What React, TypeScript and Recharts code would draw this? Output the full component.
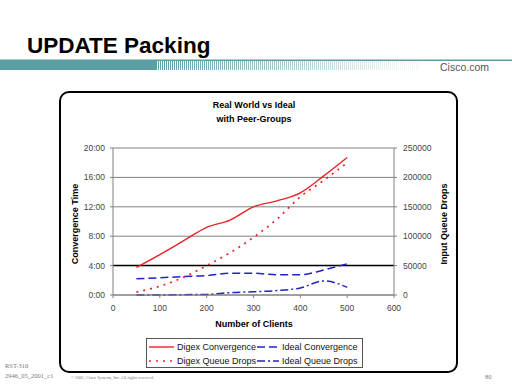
import React from "react";
import { LineChart, Line, XAxis, YAxis, CartesianGrid, ReferenceLine, Legend } from "recharts";

// ---- data ----
const clients = [50, 100, 150, 200, 250, 300, 350, 400, 450, 500];
const digexConvergence = [3.75, 5.5, 7.35, 9.2, 10.2, 12.0, 12.8, 13.9, 16.2, 18.7];
const idealConvergence = [2.2, 2.35, 2.5, 2.65, 2.95, 2.95, 2.75, 2.75, 3.4, 4.25];
const digexQueueDrops = [5000, 15000, 30000, 50000, 72000, 98000, 129000, 167000, 195000, 225000];
const idealQueueDrops = [0, 0, 500, 1000, 4000, 5500, 7500, 12000, 24000, 13000];

const xTicks = [0, 100, 200, 300, 400, 500, 600];
const leftTicks = [0, 4, 8, 12, 16, 20];
const rightTicks = [0, 50000, 100000, 150000, 200000, 250000];

const seriesNames = {
  digexConv: "Digex Convergence",
  idealConv: "Ideal Convergence",
  digexDrops: "Digex Queue Drops",
  idealDrops: "Ideal Queue Drops",
};
const legendOrder = ["digexConv", "idealConv", "digexDrops", "idealDrops"];

const data = clients.map((c, i) => ({
  x: c,
  digexConv: digexConvergence[i],
  idealConv: idealConvergence[i],
  digexDrops: digexQueueDrops[i],
  idealDrops: idealQueueDrops[i],
}));

const RED = "#e8242a";
const BLUE = "#2222c8";
const TEAL = "#5a9ea6";
const FONT = "'Liberation Sans', Arial, Helvetica, sans-serif";

const styles: Record<string, { color: string; dash?: string; width: number }> = {
  digexConv: { color: RED, width: 1.4 },
  idealConv: { color: BLUE, dash: "8 4", width: 1.5 },
  digexDrops: { color: RED, dash: "2 5", width: 1.7 },
  idealDrops: { color: BLUE, dash: "8 3 2 3", width: 1.5 },
};

const LegendBox = (props: any) => {
  const payload = [...(props.payload || [])].sort(
    (a: any, b: any) => legendOrder.indexOf(String(a.dataKey)) - legendOrder.indexOf(String(b.dataKey))
  );
  return (
    <div
      style={{
        width: 217,
        height: 30,
        boxSizing: "border-box",
        border: "1px solid #555",
        background: "#fff",
        position: "relative",
        fontFamily: FONT,
        fontSize: 9,
        color: "#111",
      }}
    >
      {payload.map((p: any, i: number) => {
        const key = String(p.dataKey);
        const s = styles[key];
        const col = i % 2;
        const row = Math.floor(i / 2);
        const left = col === 0 ? 2 : 110;
        const top = row === 0 ? 2 : 16;
        const w = col === 0 ? 25 : 22;
        return (
          <div key={key} style={{ position: "absolute", left, top, height: 12, display: "flex", alignItems: "center", whiteSpace: "nowrap" }}>
            <svg width={w} height={6} style={{ marginRight: 3 }}>
              <line x1={0} y1={3} x2={w} y2={3} stroke={s.color} strokeWidth={s.width} strokeDasharray={s.dash} />
            </svg>
            <span>{seriesNames[key as keyof typeof seriesNames]}</span>
          </div>
        );
      })}
    </div>
  );
};

const stripes: number[] = [];
for (let x = 156; x < 420; x += 2) stripes.push(x);

export default function App() {
  return (
    <div style={{ position: "absolute", left: 0, top: 0, width: 512, height: 384, background: "#fff", overflow: "hidden", fontFamily: FONT }}>
      <svg width={512} height={384} style={{ position: "absolute", left: 0, top: 0 }}>
        <text x={27} y={53} fontFamily={FONT} fontWeight="bold" fontSize={22.5} fill="#000">UPDATE Packing</text>
        <rect x={0} y={60} width={156} height={10} fill={TEAL} />
        <rect x={0} y={59.5} width={512} height={1.5} fill={TEAL} />
        {stripes.map((x) => (
          <rect key={x} x={x} y={61} width={1} height={9} fill={TEAL} opacity={Math.max(0.08, 1 - (x - 156) / 270)} />
        ))}
        <text x={440} y={71} fontFamily={FONT} fontSize={10.5} fill="#555">Cisco.com</text>
        <rect x={60} y={92} width={397} height={280} rx={9} ry={9} fill="#fff" stroke="#000" strokeWidth={2} />
        <text x={5} y={368} fontFamily="'Liberation Serif', 'Times New Roman', serif" fontSize={6.5} fill="#777">RST-310</text>
        <text x={5} y={378} fontFamily="'Liberation Serif', 'Times New Roman', serif" fontSize={6.5} fill="#777">2946_05_2001_c1</text>
        <text x={71} y={379} fontFamily="'Liberation Serif', 'Times New Roman', serif" fontSize={4.3} fill="#777">© 2001, Cisco Systems, Inc. All rights reserved.</text>
        <text x={485} y={379} fontFamily="'Liberation Serif', 'Times New Roman', serif" fontSize={6.5} fill="#777">80</text>
      </svg>
      <div style={{ position: "absolute", left: 60, top: 92 }}>
        <LineChart width={397} height={280} data={data} margin={{ top: 56, right: 13, bottom: 27, left: 13 }}>
          <CartesianGrid yAxisId="left" vertical={false} stroke="#808080" strokeWidth={1} />
          <XAxis
            dataKey="x"
            type="number"
            domain={[0, 600]}
            ticks={xTicks}
            tickSize={3}
            tickMargin={7}
            height={20}
            stroke="#808080"
            tick={{ fontSize: 8.5, fill: "#444", fontFamily: FONT }}
          />
          <YAxis
            yAxisId="left"
            domain={[0, 20]}
            ticks={leftTicks}
            tickFormatter={(v: number) => `${v}:00`}
            width={40}
            tickSize={3}
            tickMargin={5}
            stroke="#808080"
            tick={{ fontSize: 8.5, fill: "#444", fontFamily: FONT }}
          />
          <YAxis
            yAxisId="right"
            orientation="right"
            domain={[0, 250000]}
            ticks={rightTicks}
            width={50}
            tickSize={3}
            tickMargin={6}
            stroke="#808080"
            tick={{ fontSize: 8.5, fill: "#444", fontFamily: FONT }}
          />
          <ReferenceLine yAxisId="left" y={4} stroke="#000" strokeWidth={1.5} />
          <Line yAxisId="left" dataKey="digexConv" name={seriesNames.digexConv} type="monotone" stroke={RED} strokeWidth={styles.digexConv.width} dot={false} isAnimationActive={false} />
          <Line yAxisId="left" dataKey="idealConv" name={seriesNames.idealConv} type="monotone" stroke={BLUE} strokeWidth={styles.idealConv.width} strokeDasharray={styles.idealConv.dash} dot={false} isAnimationActive={false} />
          <Line yAxisId="right" dataKey="digexDrops" name={seriesNames.digexDrops} type="monotone" stroke={RED} strokeWidth={styles.digexDrops.width} strokeDasharray={styles.digexDrops.dash} dot={false} isAnimationActive={false} />
          <Line yAxisId="right" dataKey="idealDrops" name={seriesNames.idealDrops} type="monotone" stroke={BLUE} strokeWidth={styles.idealDrops.width} strokeDasharray={styles.idealDrops.dash} dot={false} isAnimationActive={false} />
          <Legend content={<LegendBox />} wrapperStyle={{ left: 86, top: 246, bottom: "auto", width: 217, height: 30 }} />
        </LineChart>
      </div>
      <svg width={512} height={384} style={{ position: "absolute", left: 0, top: 0, pointerEvents: "none" }}>
        <text x={254} y={108} textAnchor="middle" fontFamily={FONT} fontWeight="bold" fontSize={9} fill="#000">Real World vs Ideal</text>
        <text x={254} y={121.5} textAnchor="middle" fontFamily={FONT} fontWeight="bold" fontSize={9} fill="#000">with Peer-Groups</text>
        <text x={254} y={326.5} textAnchor="middle" fontFamily={FONT} fontWeight="bold" fontSize={9} fill="#000">Number of Clients</text>
        <text transform="translate(78,224) rotate(-90)" textAnchor="middle" fontFamily={FONT} fontWeight="bold" fontSize={9} fill="#000">Convergence Time</text>
        <text transform="translate(446.5,224) rotate(-90)" textAnchor="middle" fontFamily={FONT} fontWeight="bold" fontSize={9} fill="#000">Input Queue Drops</text>
      </svg>
    </div>
  );
}
